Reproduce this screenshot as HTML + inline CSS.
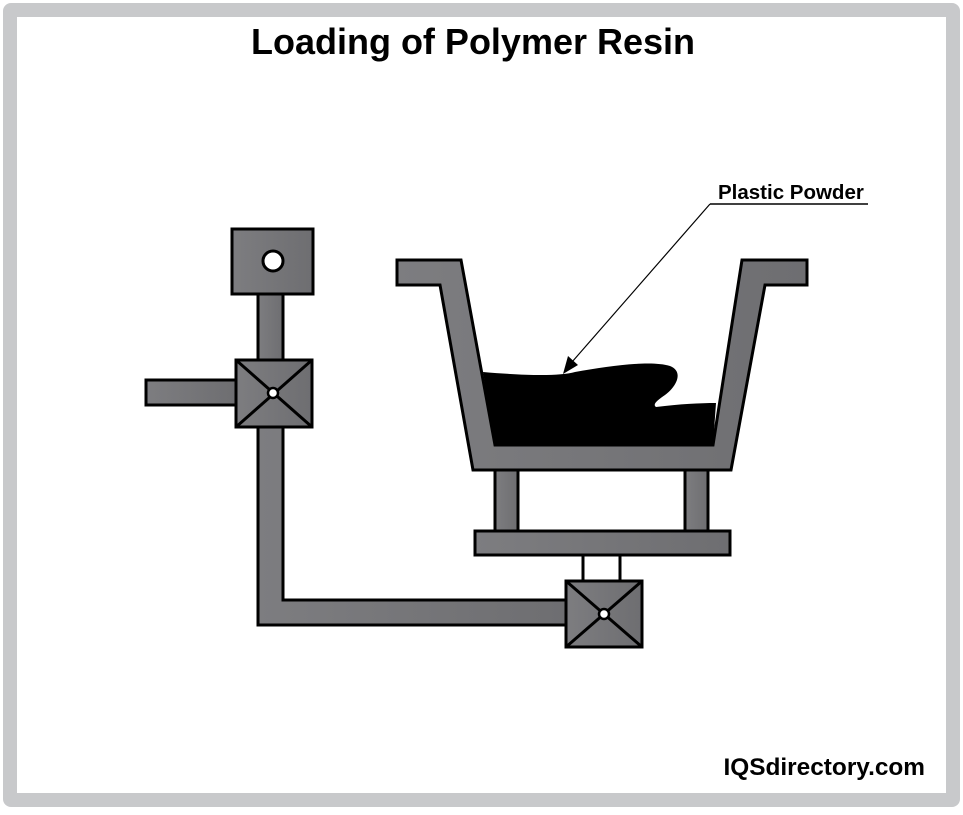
<!DOCTYPE html>
<html><head><style>
html,body{margin:0;padding:0;background:#fff;}
</style></head><body>
<svg width="963" height="810" viewBox="0 0 963 810" xmlns="http://www.w3.org/2000/svg">
<defs>
<linearGradient id="g" x1="0" y1="0" x2="1" y2="0">
<stop offset="0" stop-color="#7d7d80"/><stop offset="1" stop-color="#6e6e71"/>
</linearGradient>
</defs>
<rect x="3" y="3" width="957" height="804" rx="8" fill="#c8c9cb"/>
<rect x="17" y="17" width="929" height="776" fill="#fff"/>
<text x="473" y="54" text-anchor="middle" font-family="Liberation Sans, sans-serif" font-weight="bold" font-size="36">Loading of Polymer Resin</text>
<g stroke="#000" stroke-width="3" fill="url(#g)" stroke-linejoin="miter">
<rect x="146" y="380" width="90" height="25"/>
<rect x="258" y="294" width="25" height="66" stroke="none"/>
<line x1="258" y1="294" x2="258" y2="360"/><line x1="283" y1="294" x2="283" y2="360"/>
<path d="M258 427 V625 H566 V600 H283 V427 Z"/>
<rect x="232" y="229" width="81" height="65"/>
<rect x="236" y="360" width="76" height="67"/>
<line x1="236" y1="360" x2="312" y2="427"/><line x1="312" y1="360" x2="236" y2="427"/>
<path d="M397 260 L461 260 L495 445 L713 445 L742 260 L807 260 L807 285 L765 285 L731 470 L473 470 L440 285 L397 285 Z"/>
<rect x="495" y="470" width="23" height="61"/>
<rect x="685" y="470" width="23" height="61"/>
<rect x="475" y="531" width="255" height="24"/>
<rect x="583" y="555" width="37" height="26" fill="#fff"/>
<rect x="566" y="581" width="76" height="66"/>
<line x1="566" y1="581" x2="642" y2="647"/><line x1="642" y1="581" x2="566" y2="647"/>
</g>
<circle cx="273" cy="261" r="10" fill="#fff" stroke="#000" stroke-width="3"/>
<circle cx="273" cy="393" r="5" fill="#fff" stroke="#000" stroke-width="2.5"/>
<circle cx="604" cy="614" r="5" fill="#fff" stroke="#000" stroke-width="2.5"/>
<path d="M483 372 C530 376 560 376 575 372 C610 366 650 360 670 366 C685 372 675 388 665 395 C658 400 652 404 656 407 C680 404 700 403 716 403 L713 445 L495 445 Z" fill="#000"/>
<text x="718" y="199" font-family="Liberation Sans, sans-serif" font-weight="bold" font-size="20.5">Plastic Powder</text>
<line x1="710" y1="204" x2="868" y2="204" stroke="#000" stroke-width="1.5"/>
<line x1="710" y1="204" x2="572" y2="362" stroke="#000" stroke-width="1.2"/>
<polygon points="563,374 568,356 578,365" fill="#000"/>
<text x="925" y="775" text-anchor="end" font-family="Liberation Sans, sans-serif" font-weight="bold" font-size="24.4">IQSdirectory.com</text>
</svg>
</body></html>
